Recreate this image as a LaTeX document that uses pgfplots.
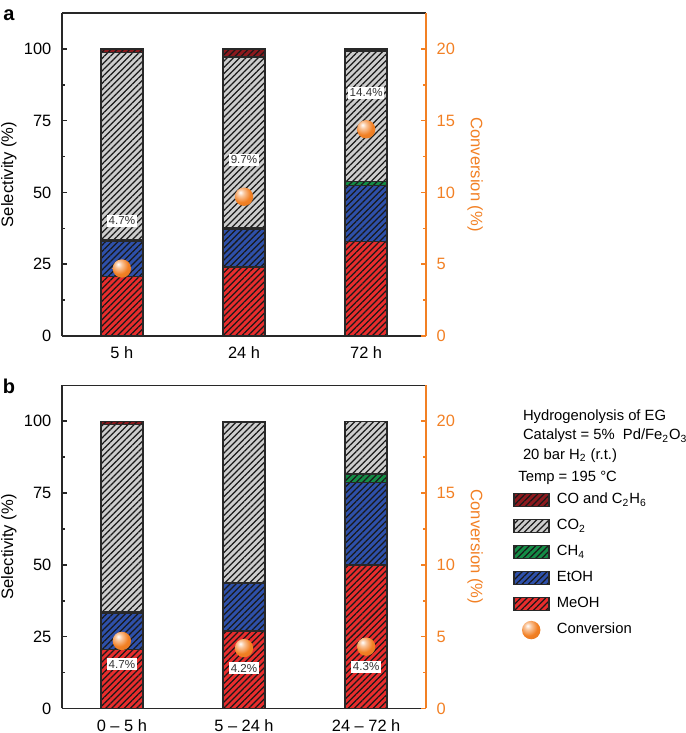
\documentclass[border=0pt]{standalone}
\usepackage{pgfplots}
\pgfplotsset{compat=1.18}
\usepackage{fontspec}
\setmainfont{Liberation Sans}
\usetikzlibrary{patterns.meta}
\definecolor{meoh}{RGB}{232,45,45}
\definecolor{etoh}{RGB}{46,80,170}
\definecolor{chf}{RGB}{20,140,70}
\definecolor{cot}{RGB}{205,205,205}
\definecolor{coc}{RGB}{140,25,30}
\definecolor{conv}{RGB}{242,128,36}
\definecolor{edge}{RGB}{40,40,40}
\pgfdeclareradialshading{obshade}{\pgfpoint{-10bp}{12bp}}{color(0bp)=(white); color(9bp)=(conv!45!white); color(24bp)=(conv); color(50bp)=(conv!90!black); color(90bp)=(conv!80!black)}
\pgfdeclareplotmark{oball}{\pgfpathcircle{\pgfpointorigin}{\pgfplotmarksize}\pgfshadepath{obshade}{0}\pgfusepath{}}
\tikzset{hatch/.style={postaction={pattern={Lines[angle=45,distance=2.2pt,line width=0.62pt]},pattern color=black!90}}}
\newcommand{\fs}{\fontsize{8.2}{9.8}\selectfont}
\newcommand{\fl}{\fontsize{7.4}{8.9}\selectfont}
\pgfplotsset{
  barleg/.style={legend image code/.code={\draw[##1] (0pt,-3.25pt) rectangle (17.5pt,3.25pt);}},
  bars/.style={draw=edge, line width=0.75pt, hatch},
  selax/.style={
    scale only axis, width=182pt, height=161.5pt,
    xmin=-0.49, xmax=2.49, ymin=0, ymax=112.5,
    ybar stacked, bar width=21pt,
    xtick={0,1,2}, x tick style={draw=none},
    ytick={0,25,50,75,100}, minor ytick={12.5,37.5,62.5,87.5},
    major tick length=2.5pt, minor tick length=1.5pt,
    separate axis lines,
    axis line style={edge, line width=0.8pt},
    y tick style={edge, line width=0.8pt},
    tick label style={font=\fs},
    /pgf/number format/assume math mode=true,
    yticklabel style={xshift=-1.8pt},
    xticklabel style={yshift=-2pt},
    ylabel={Selectivity (\%)},
    every axis y label/.style={at={(axis description cs:-0.146,0.5)}, rotate=90, anchor=center, font=\fontsize{8.3}{10}\selectfont},
  },
  convax/.style={
    scale only axis, width=182pt, height=161.5pt,
    xmin=-0.49, xmax=2.49, ymin=0, ymax=22.5,
    axis x line=none, axis y line*=right,
    ytick={0,5,10,15,20}, minor ytick={2.5,7.5,12.5,17.5},
    major tick length=2.5pt, minor tick length=1.5pt,
    y axis line style={-, conv, line width=0.8pt},
    y tick style={conv, line width=0.8pt},
    tick label style={font=\fs, text=conv},
    /pgf/number format/assume math mode=true,
    yticklabel style={xshift=1.8pt},
    ylabel={Conversion (\%)},
    every axis y label/.style={at={(axis description cs:1.135,0.5)}, rotate=-90, anchor=center, font=\fontsize{8.3}{10}\selectfont, text=conv},
  },
}
\tikzset{lbl/.style={fill=white, inner xsep=0.8pt, inner ysep=1pt, font=\fontsize{5.8}{7}\selectfont, text=black!80}}
\begin{document}
\begin{tikzpicture}
\useasboundingbox (0,0) rectangle (342.5pt,-366.5pt);
% ---------------- panel a
\begin{axis}[selax, at={(31pt,-168pt)}, anchor=south west, xticklabels={5 h,24 h,72 h}]
\addplot[bars, fill=meoh] coordinates {(0,20.7) (1,24.1) (2,32.9)};
\addplot[bars, fill=etoh] coordinates {(0,12.4) (1,13.1) (2,19.5)};
\addplot[bars, fill=chf] coordinates {(0,0.3) (1,0.4) (2,1.4)};
\addplot[bars, fill=cot] coordinates {(0,65.4) (1,59.5) (2,45.4)};
\addplot[bars, fill=coc] coordinates {(0,1.2) (1,2.9) (2,0.8)};
\end{axis}
\begin{axis}[convax, at={(31pt,-168pt)}, anchor=south west]
\node[lbl] at (axis cs:0,8.04) {4.7\%};
\node[lbl] at (axis cs:1,12.26) {9.7\%};
\node[lbl] at (axis cs:2,16.94) {14.4\%};
\addplot[only marks, mark=oball, mark size=4.6pt] coordinates {(0,4.7) (1,9.7) (2,14.4)};
\end{axis}
% ---------------- panel b
\begin{axis}[selax, at={(31pt,-354.2pt)}, anchor=south west, xticklabels={0 – 5 h,5 – 24 h,24 – 72 h}]
\addplot[bars, fill=meoh] coordinates {(0,20.6) (1,27.0) (2,49.9)};
\addplot[bars, fill=etoh] coordinates {(0,12.6) (1,16.6) (2,28.8)};
\addplot[bars, fill=chf] coordinates {(0,0.3) (1,0.3) (2,2.9)};
\addplot[bars, fill=cot] coordinates {(0,65.3) (1,55.6) (2,18.4)};
\addplot[bars, fill=coc] coordinates {(0,1.2) (1,0.5) (2,0)};
\end{axis}
\begin{axis}[convax, at={(31pt,-354.2pt)}, anchor=south west,
  legend style={at={(axis description cs:1.239,0.680)}, anchor=north west, draw=none, fill=none, inner sep=0pt, font=\fl, row sep=2.3pt, column sep=1.5pt},
  legend cell align=left]
\node[lbl] at (axis cs:0,3.08) {4.7\%};
\node[lbl] at (axis cs:1,2.80) {4.2\%};
\node[lbl] at (axis cs:2,2.90) {4.3\%};
\addlegendimage{barleg, bars, fill=coc}
\addlegendentry{CO and C\textsubscript{2}H\textsubscript{6}}
\addlegendimage{barleg, bars, fill=cot}
\addlegendentry{CO\textsubscript{2}}
\addlegendimage{barleg, bars, fill=chf}
\addlegendentry{CH\textsubscript{4}}
\addlegendimage{barleg, bars, fill=etoh}
\addlegendentry{EtOH}
\addlegendimage{barleg, bars, fill=meoh}
\addlegendentry{MeOH}
\addplot[only marks, mark=oball, mark size=4.6pt] coordinates {(0,4.7) (1,4.2) (2,4.3)};
\addlegendentry{Conversion}
\end{axis}
% ---------------- texts
\node[font=\fontsize{10}{12}\selectfont\bfseries] at (4.5pt,-7.5pt) {a};
\node[font=\fontsize{10}{12}\selectfont\bfseries] at (4.5pt,-193pt) {b};
\node[font=\fl, anchor=base west, inner sep=0pt] at (261.3pt,-210pt) {Hydrogenolysis of EG};
\node[font=\fl, anchor=base west, inner sep=0pt] at (261.3pt,-219.8pt) {Catalyst = 5\%\ \ Pd/Fe\textsubscript{2}O\textsubscript{3}};
\node[font=\fl, anchor=base west, inner sep=0pt] at (261.3pt,-229.5pt) {20 bar H\textsubscript{2} (r.t.)};
\node[font=\fl, anchor=base west, inner sep=0pt] at (259pt,-240.8pt) {Temp = 195 °C};
\end{tikzpicture}
\end{document}
